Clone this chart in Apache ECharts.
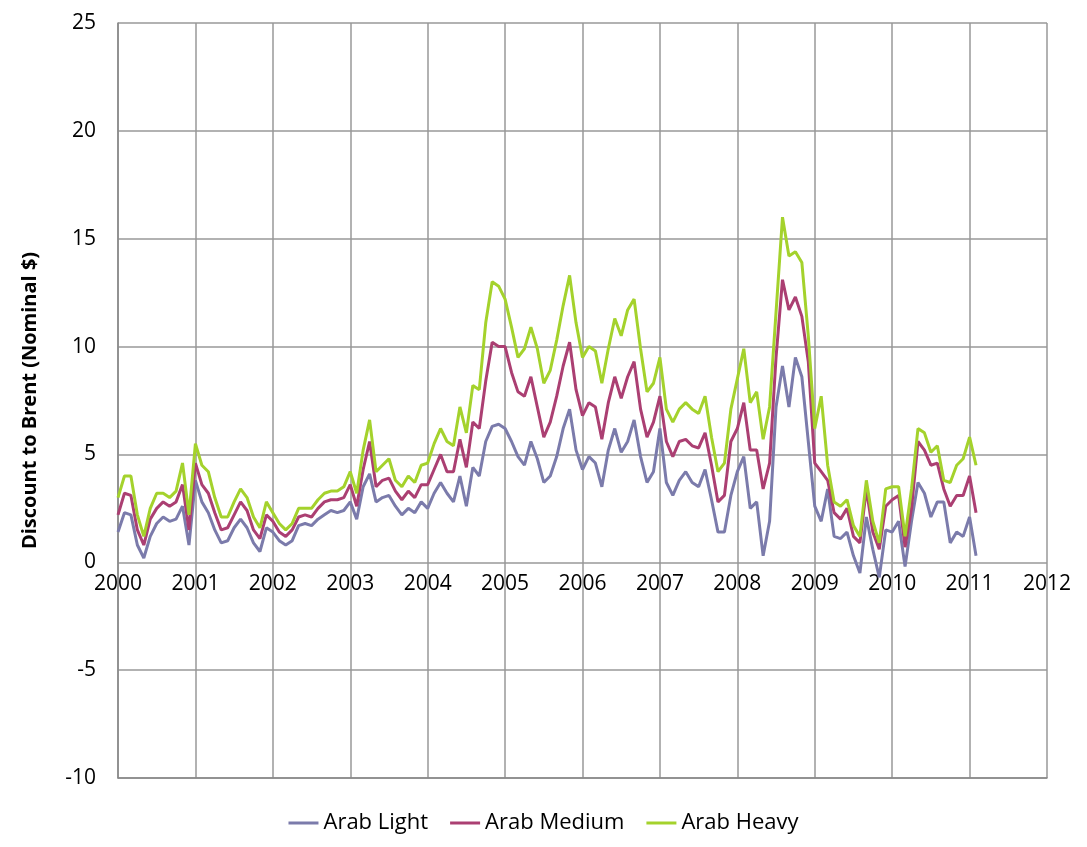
<!DOCTYPE html>
<html lang="en">
<head>
  <meta charset="UTF-8">
  <title>Discount to Brent</title>
  <script src="https://cdn.jsdelivr.net/npm/echarts@6/dist/echarts.min.js"></script>
</head>
<body style="margin:0;background:#fff">
  <div id="app" style="width: 1087px; height: 847px;"></div>
  <script>
    // monthly values, Jan 2000 .. Feb 2011
    var arabLight = [
      1.4, 2.3, 2.2, 0.8, 0.2, 1.2, 1.8, 2.1, 1.9, 2.0, 2.6, 0.8,
      3.8, 2.8, 2.3, 1.5, 0.9, 1.0, 1.6, 2.0, 1.6, 0.9, 0.5, 1.6,
      1.4, 1.0, 0.8, 1.0, 1.7, 1.8, 1.7, 2.0, 2.2, 2.4, 2.3, 2.4,
      2.8, 2.0, 3.5, 4.1, 2.8, 3.0, 3.1, 2.6, 2.2, 2.5, 2.3, 2.8,
      2.5, 3.2, 3.7, 3.2, 2.8, 4.0, 2.6, 4.4, 4.0, 5.6, 6.3, 6.4,
      6.2, 5.6, 4.9, 4.5, 5.6, 4.8, 3.7, 4.0, 4.9, 6.2, 7.1, 5.2,
      4.3, 4.9, 4.6, 3.5, 5.2, 6.2, 5.1, 5.6, 6.6, 4.9, 3.7, 4.2,
      6.2, 3.7, 3.1, 3.8, 4.2, 3.7, 3.5, 4.3, 2.9, 1.4, 1.4, 3.1,
      4.2, 4.9, 2.5, 2.8, 0.3, 1.9, 7.2, 9.1, 7.2, 9.5, 8.6, 5.6,
      2.6, 1.9, 3.4, 1.2, 1.1, 1.4, 0.3, -0.5, 2.1, 0.6, -0.7, 1.5,
      1.4, 1.9, -0.2, 1.9, 3.7, 3.2, 2.1, 2.8, 2.8, 0.9, 1.4, 1.2,
      2.1, 0.3
    ]
    var arabMedium = [
      2.2, 3.2, 3.1, 1.5, 0.8, 2.0, 2.5, 2.8, 2.6, 2.8, 3.6, 1.5,
      4.6, 3.6, 3.2, 2.3, 1.5, 1.6, 2.2, 2.8, 2.4, 1.5, 1.1, 2.2,
      1.9, 1.4, 1.2, 1.5, 2.1, 2.2, 2.1, 2.5, 2.8, 2.9, 2.9, 3.0,
      3.6, 2.6, 4.3, 5.6, 3.5, 3.8, 3.9, 3.3, 2.9, 3.3, 3.0, 3.6,
      3.6, 4.3, 5.0, 4.2, 4.2, 5.7, 4.4, 6.5, 6.2, 8.4, 10.2, 10.0,
      10.0, 8.8, 7.9, 7.7, 8.6, 7.2, 5.8, 6.5, 7.7, 9.1, 10.2, 8.0,
      6.8, 7.4, 7.2, 5.7, 7.4, 8.6, 7.6, 8.6, 9.3, 7.1, 5.8, 6.5,
      7.7, 5.6, 4.9, 5.6, 5.7, 5.4, 5.3, 6.0, 4.5, 2.8, 3.1, 5.6,
      6.2, 7.4, 5.2, 5.2, 3.4, 4.6, 9.5, 13.1, 11.7, 12.3, 11.4, 9.3,
      4.6, 4.2, 3.8, 2.3, 2.0, 2.5, 1.2, 0.9, 3.4, 1.4, 0.6, 2.6,
      2.9, 3.1, 0.7, 2.5, 5.6, 5.2, 4.5, 4.6, 3.4, 2.6, 3.1, 3.1,
      4.0, 2.3
    ]
    var arabHeavy = [
      3.0, 4.0, 4.0, 2.2, 1.2, 2.5, 3.2, 3.2, 3.0, 3.3, 4.6, 2.2,
      5.5, 4.5, 4.2, 3.0, 2.1, 2.1, 2.8, 3.4, 3.0, 2.1, 1.6, 2.8,
      2.3, 1.8, 1.5, 1.8, 2.5, 2.5, 2.5, 2.9, 3.2, 3.3, 3.3, 3.5,
      4.2, 3.2, 5.2, 6.6, 4.2, 4.5, 4.8, 3.8, 3.5, 4.0, 3.7, 4.5,
      4.6, 5.5, 6.2, 5.6, 5.4, 7.2, 6.0, 8.2, 8.0, 11.1, 13.0, 12.8,
      12.2, 10.9, 9.5, 9.9, 10.9, 9.9, 8.3, 8.9, 10.3, 11.9, 13.3, 11.1,
      9.5, 10.0, 9.8, 8.3, 9.9, 11.3, 10.5, 11.7, 12.2, 9.9, 7.9, 8.3,
      9.5, 7.1, 6.5, 7.1, 7.4, 7.1, 6.9, 7.7, 5.8, 4.2, 4.6, 7.1,
      8.5, 9.9, 7.4, 7.9, 5.7, 7.2, 11.6, 16.0, 14.2, 14.4, 13.9, 10.5,
      6.2, 7.7, 4.5, 2.8, 2.6, 2.9, 1.7, 1.2, 3.8, 1.9, 0.9, 3.4,
      3.5, 3.5, 1.2, 3.4, 6.2, 6.0, 5.1, 5.4, 3.8, 3.7, 4.5, 4.8,
      5.8, 4.5
    ]
    var seriesNames = ['Arab Light', 'Arab Medium', 'Arab Heavy']
    var seriesColors = ['#7b7bab', '#ab3f72', '#a4d22c']

    function toPoints(values) {
      var pts = []
      for (var i = 0; i < values.length; i++) {
        pts.push([2000 + i / 12, values[i]])
      }
      return pts
    }

    var mCharts = echarts.init(document.querySelector('#app'))
    var font = 'Open Sans'
    var allValues = [arabLight, arabMedium, arabHeavy]
    var series = []
    for (var k = 0; k < 3; k++) {
      series.push({
        name: seriesNames[k],
        type: 'line',
        data: toPoints(allValues[k]),
        showSymbol: false,
        lineStyle: { width: 3, color: seriesColors[k] },
        itemStyle: { color: seriesColors[k] }
      })
    }

    var option = {
      animation: false,
      textStyle: { fontFamily: font },
      grid: { left: 118, right: 40, top: 23, bottom: 69 },
      legend: {
        bottom: 8,
        itemWidth: 30,
        itemHeight: 3,
        itemGap: 22,
        icon: 'rect',
        textStyle: { fontSize: 22, color: '#000', fontFamily: font },
        data: seriesNames
      },
      xAxis: {
        type: 'value',
        min: 2000,
        max: 2012,
        interval: 1,
        axisLine: { onZero: false, lineStyle: { color: '#888', width: 1.5 } },
        axisTick: { show: false },
        // labels sit just under the zero line, as in the original
        axisLabel: { fontSize: 21, color: '#000', margin: -204, formatter: function (v) { return String(v) } },
        splitLine: { show: true, lineStyle: { color: '#999', width: 1.5 } }
      },
      yAxis: {
        type: 'value',
        min: -10,
        max: 25,
        interval: 5,
        name: 'Discount to Brent (Nominal $)',
        nameLocation: 'middle',
        nameGap: 78,
        nameTextStyle: { fontSize: 20, fontWeight: 'bold', color: '#000' },
        axisLine: { show: true, lineStyle: { color: '#888', width: 1.5 } },
        axisTick: { show: false },
        axisLabel: { fontSize: 21, color: '#000', margin: 22 },
        splitLine: { lineStyle: { color: '#999', width: 1.5 } }
      },
      series: series
    }
    mCharts.setOption(option)
  </script>
</body>
</html>
